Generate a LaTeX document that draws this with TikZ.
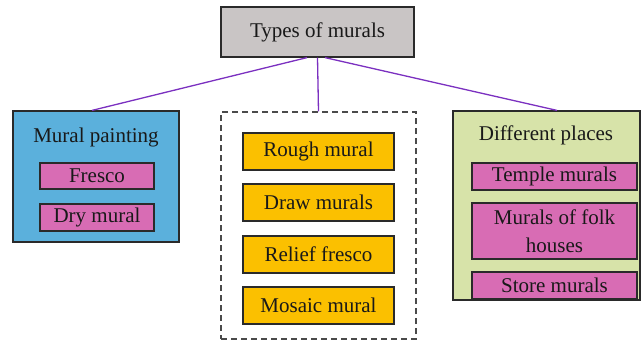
\documentclass[tikz,border=0pt]{standalone}
\usepackage{fontspec}
\setmainfont{Liberation Serif}
\definecolor{topgray}{HTML}{C9C5C5}
\definecolor{bluebox}{HTML}{5BB0DC}
\definecolor{pinkbox}{HTML}{D86CB4}
\definecolor{orangebox}{HTML}{FBC000}
\definecolor{greenbox}{HTML}{D7E3A9}
\definecolor{linkcol}{HTML}{7B30C0}
\definecolor{edgecol}{HTML}{2A2A2A}
\begin{document}
\begin{tikzpicture}[x=1pt,y=-1pt,
  every node/.style={font=\fontsize{21}{28}\selectfont, inner sep=0pt, text=black!90},
  boxbase/.style={draw=edgecol, line width=1.2pt, rectangle},
  topbox/.style={boxbase, fill=topgray, minimum width=193pt, minimum height=50pt},
  pinkitem/.style={boxbase, fill=pinkbox, minimum width=114pt, minimum height=26pt},
  pinkright/.style={boxbase, fill=pinkbox, minimum width=165pt, minimum height=27pt, align=center},
  orangeitem/.style={boxbase, fill=orangebox, minimum width=151pt, minimum height=37pt},
  link/.style={draw=linkcol, line width=1.3pt}
]
\useasboundingbox (0,0) rectangle (642,343);
% top
\node[topbox] (top) at (317.5,32) {Types of murals};
% left group
\node[boxbase, fill=bluebox, minimum width=166pt, minimum height=131pt] (left) at (96,176.5) {};
\node (lefttitle) at (96,137) {Mural painting};
\node[pinkitem] (fresco) at (97,176) {Fresco};
\node[pinkitem, minimum height=27pt] (dry) at (97,217.5) {Dry mural};
% middle group
\node[draw=edgecol!85, line width=1.2pt, dash pattern=on 6pt off 4pt, minimum width=195pt, minimum height=227pt] (mid) at (318.5,225.5) {};
\node[orangeitem] (rough) at (318.5,151.5) {Rough mural};
\node[orangeitem] (draw) at (318.5,202.5) {Draw murals};
\node[orangeitem] (relief) at (318.5,254.5) {Relief fresco};
\node[orangeitem] (mosaic) at (318.5,305.5) {Mosaic mural};
% right group
\node[boxbase, fill=greenbox, minimum width=187pt, minimum height=189pt] (right) at (546.5,205.5) {};
\node (righttitle) at (546,135) {Different places};
\node[pinkright] (temple) at (554.5,176.5) {Temple murals};
\node[pinkright, minimum height=56pt] (folk) at (554.5,231) {Murals of folk\\houses};
\node[pinkright] (store) at (554.5,285.5) {Store murals};
% connectors
\draw[link] ([xshift=-10.5pt]top.south) -- ([xshift=-4pt]left.north);
\draw[link] (top.south) -- (mid.north);
\draw[link] ([xshift=7.5pt]top.south) -- ([xshift=10.5pt]right.north);
\end{tikzpicture}
\end{document}
